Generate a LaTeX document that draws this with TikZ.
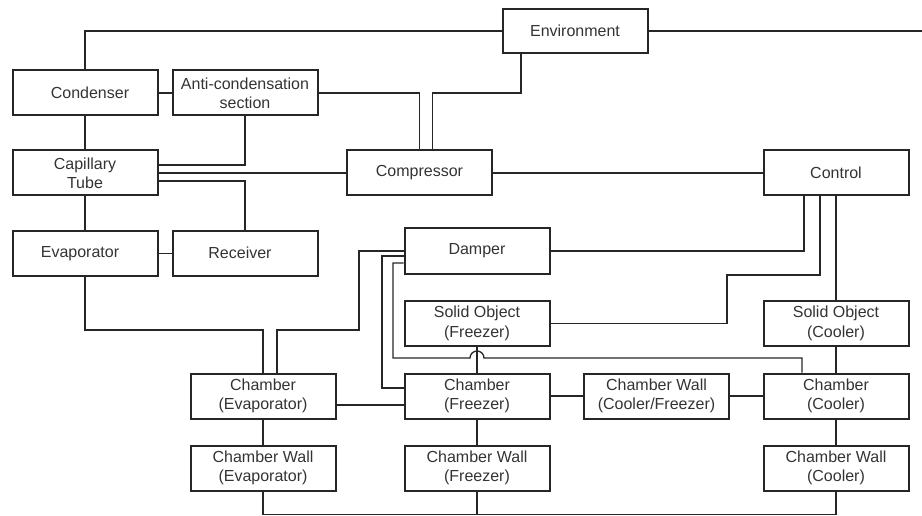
\documentclass[tikz,border=0pt]{standalone}
\usepackage{fontspec}
\setmainfont{Liberation Sans}
\begin{document}
\begin{tikzpicture}[x=1pt,y=-1pt,
  box/.style={draw=black!85,line width=2pt,minimum width=145pt,minimum height=45pt,
    inner sep=0pt,align=center,font=\fontsize{16}{19.3}\selectfont,text=black!80},
  wire/.style={draw=black!85,line width=1.3pt},
  line join=miter]
\useasboundingbox (0,0) rectangle (922,516);
\node[box,minimum height=44pt] (env) at (575,31) {Environment};
\node[box] (cond) at (85,93) {\hspace*{10pt}Condenser};
\node[box] (anti) at (245,93) {Anti-condensation\\section};
\node[box] (cap) at (85,173) {Capillary\\Tube};
\node[box] (comp) at (419.5,173) {Compressor};
\node[box] (ctrl) at (836,173) {Control};
\node[box] (evap) at (85,253.5) {Evaporator\hspace*{10pt}};
\node[box] (rec) at (245,253.5) {\raisebox{2pt}{Receiver}\hspace*{10pt}};
\node[box] (damp) at (477,251) {Damper};
\node[box] (solfr) at (477,323.5) {Solid Object\\(Freezer)};
\node[box] (solco) at (836,323.5) {Solid Object\\(Cooler)};
\node[box] (chev) at (263,396) {Chamber\\(Evaporator)};
\node[box] (chfr) at (477,396) {Chamber\\(Freezer)};
\node[box] (cwcf) at (656.5,396) {Chamber Wall\\(Cooler/Freezer)};
\node[box] (chco) at (836,396) {Chamber\\(Cooler)};
\node[box] (cwev) at (263,468) {Chamber Wall\\(Evaporator)};
\node[box] (cwfr) at (477,468) {Chamber Wall\\(Freezer)};
\node[box] (cwco) at (836,468) {Chamber Wall\\(Cooler)};
\coordinate (eright) at (922,31);
\coordinate (e1) at ([xshift=-54pt]env.south);
% top
\draw[wire] (cond.north) |- (env.west);
\draw[wire] (env.east) -- (eright);
\draw[wire] (cond.east) -- (anti.west);
\draw[wire] (anti.east) -| (comp.north);
\draw[wire] ([xshift=13pt]comp.north) |- (e1 |- anti.east) -- (e1);
\draw[wire] (anti.south) |- ([yshift=8pt]cap.east);
\draw[wire] (cap.east) -- (comp.west);
\draw[wire] ([yshift=-8pt]cap.east) -| (rec.north);
\draw[wire] (cond.south) -- (cap.north);
\draw[wire] (cap.south) -- (evap.north);
\draw[wire] (evap.east) -- (rec.west);
\draw[wire] (comp.east) -- (ctrl.west);
% chamber evaporator
\draw[wire] (evap.south) |- (chev.north |- 0,330) -- (chev.north);
\draw[wire] ([xshift=14pt]chev.north) |- (359,330) |- (damp.west);
% damper to chamber freezer
\draw[wire] ([yshift=-5pt]damp.west) -| (382,388) -- ([yshift=8pt]chfr.west);
% damper to chamber cooler with jump
\draw[wire] ([yshift=-12pt]damp.west) -| (393,358) -- (470,358)
  arc[start angle=180,end angle=0,radius=7pt] -| ([xshift=-34pt]chco.north);
\draw[wire] (solfr.south) -- (chfr.north);
% control
\draw[wire] (damp.east) -| ([xshift=-32pt]ctrl.south);
\draw[wire] ([xshift=-16pt]ctrl.south) |- (727,275) |- (solfr.east);
\draw[wire] (ctrl.south) -- (solco.north);
% chambers
\draw[wire] ([yshift=-9pt]chev.east) -- ([yshift=-9pt]chfr.west);
\draw[wire] (chfr.east) -- (cwcf.west);
\draw[wire] (cwcf.east) -- (chco.west);
\draw[wire] (solco.south) -- (chco.north);
\draw[wire] (chco.south) -- (cwco.north);
\draw[wire] (chev.south) -- (cwev.north);
\draw[wire] (chfr.south) -- (cwfr.north);
% bottom
\draw[wire] (cwev.south) |- (cwco.south |- 0,514.5) -- (cwco.south);
\draw[wire] (cwfr.south) -- (cwfr.south |- 0,514.5);
\end{tikzpicture}
\end{document}
